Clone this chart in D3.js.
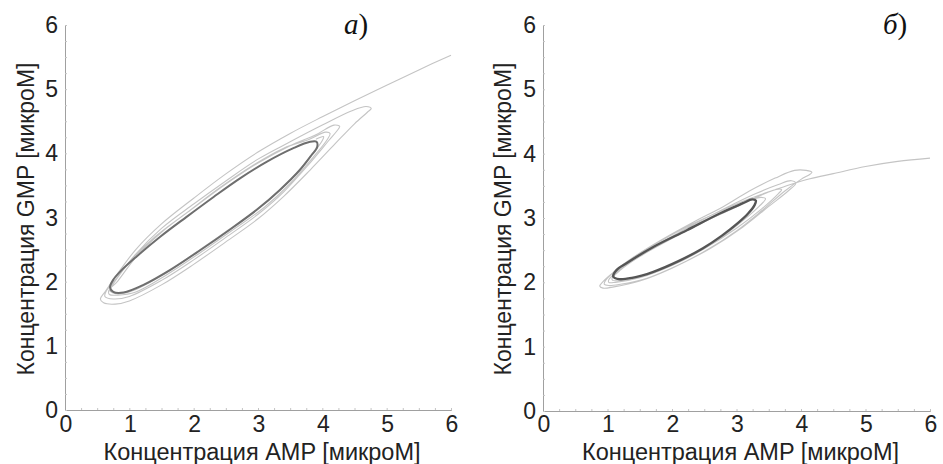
<!DOCTYPE html>
<html>
<head>
<meta charset="utf-8">
<script src="https://cdn.jsdelivr.net/npm/d3@7"></script>
<style>
  body { margin: 0; background: #fff; }
</style>
</head>
<body>
<div id="chart"></div>
<script>
// tick labels and titles
var xTicks = [0, 1, 2, 3, 4, 5, 6];
var yTicks = [0, 1, 2, 3, 4, 5, 6];
var xTitle = "Концентрация AMP [микроМ]";
var yTitle = "Концентрация GMP [микроМ]";
var panelLetters = ["a", "б"];

// panel a: limit cycle (AMP, GMP)
var cycleA = [
  [0.70, 1.91], [0.75, 2.03], [0.88, 2.18], [1.11, 2.39], [1.48, 2.70],
  [1.89, 3.01], [2.31, 3.32], [2.72, 3.61], [3.14, 3.87], [3.55, 4.08],
  [3.81, 4.18], [3.91, 4.18], [3.92, 4.10], [3.83, 3.97], [3.65, 3.74],
  [3.34, 3.43], [2.98, 3.12], [2.56, 2.81], [2.10, 2.49], [1.63, 2.18],
  [1.22, 1.95], [0.91, 1.83], [0.75, 1.84]
];

// panel a: transient trajectory spiralling onto the cycle
var transientA = [
  [6.00, 5.53], [5.50, 5.30], [5.00, 5.06], [4.50, 4.82], [4.00, 4.57],
  [3.50, 4.31], [3.00, 4.02], [2.50, 3.68], [2.00, 3.30], [1.50, 2.90],
  [1.10, 2.50], [0.80, 2.10], [0.62, 1.84], [0.55, 1.73], [0.60, 1.67],
  [0.78, 1.65],
  [1.00, 1.70], [1.50, 1.95], [2.00, 2.27], [2.50, 2.62], [3.00, 2.98],
  [3.40, 3.33], [3.81, 3.74], [4.20, 4.15], [4.50, 4.46], [4.70, 4.64],
  [4.76, 4.70], [4.68, 4.73],
  [4.45, 4.66], [4.00, 4.44], [3.50, 4.18], [3.00, 3.91], [2.50, 3.57],
  [2.00, 3.21], [1.50, 2.83], [1.10, 2.43], [0.80, 2.05], [0.64, 1.85],
  [0.62, 1.77], [0.75, 1.73],
  [1.00, 1.77], [1.50, 2.02], [2.00, 2.34], [2.50, 2.69], [3.00, 3.05],
  [3.40, 3.40], [3.80, 3.84], [4.10, 4.20], [4.25, 4.38], [4.27, 4.42],
  [4.18, 4.44],
  [3.90, 4.29], [3.50, 4.12], [3.00, 3.85], [2.50, 3.52], [2.00, 3.15],
  [1.50, 2.77], [1.10, 2.38], [0.82, 2.01], [0.68, 1.86], [0.69, 1.80],
  [0.82, 1.79],
  [1.10, 1.84], [1.60, 2.12], [2.10, 2.45], [2.60, 2.80], [3.10, 3.16],
  [3.50, 3.53], [3.85, 3.93], [4.08, 4.22], [4.12, 4.31], [4.05, 4.33],
  [3.80, 4.22], [3.40, 4.08], [2.90, 3.80], [2.40, 3.46], [1.90, 3.08],
  [1.40, 2.70], [1.00, 2.30], [0.76, 1.98], [0.69, 1.87], [0.76, 1.82],
  [1.00, 1.84], [1.50, 2.09], [2.00, 2.43], [2.50, 2.78], [3.00, 3.13],
  [3.40, 3.48], [3.80, 3.93], [4.00, 4.20], [4.02, 4.26], [3.90, 4.22]
];

// panel б: limit cycle
var cycleB = [
  [1.09, 2.09], [1.14, 2.19], [1.30, 2.30], [1.71, 2.55], [2.23, 2.81],
  [2.74, 3.07], [3.10, 3.23], [3.24, 3.29], [3.30, 3.27], [3.28, 3.20],
  [3.18, 3.07], [3.02, 2.92], [2.78, 2.73], [2.48, 2.53], [2.10, 2.33],
  [1.70, 2.16], [1.38, 2.07], [1.18, 2.05]
];

// panel б: transient trajectory
var transientB = [
  [6.00, 3.93], [5.50, 3.88], [5.00, 3.80], [4.50, 3.69], [4.14, 3.61],
  [3.90, 3.54], [3.60, 3.44], [3.20, 3.30], [2.80, 3.13], [2.30, 2.90],
  [1.80, 2.63], [1.40, 2.38], [1.10, 2.16], [0.93, 2.01], [0.88, 1.94],
  [0.93, 1.91], [1.10, 1.93],
  [1.50, 2.02], [2.00, 2.22], [2.50, 2.48], [3.00, 2.80], [3.40, 3.12],
  [3.75, 3.42], [4.00, 3.60], [4.14, 3.68], [4.17, 3.71], [4.08, 3.74],
  [3.90, 3.74],
  [3.60, 3.62], [3.20, 3.42], [2.80, 3.18], [2.30, 2.92], [1.80, 2.64],
  [1.40, 2.39], [1.12, 2.18], [0.97, 2.03], [0.95, 1.97], [1.02, 1.95],
  [1.20, 1.97],
  [1.60, 2.06], [2.10, 2.27], [2.60, 2.53], [3.10, 2.86], [3.50, 3.18],
  [3.80, 3.42], [3.92, 3.54], [3.85, 3.58], [3.65, 3.52],
  [3.30, 3.38], [2.80, 3.14], [2.30, 2.88], [1.80, 2.60], [1.40, 2.36],
  [1.15, 2.17], [1.02, 2.04], [1.02, 2.00], [1.12, 2.00],
  [1.50, 2.07], [2.00, 2.26], [2.50, 2.52], [3.00, 2.84], [3.40, 3.15],
  [3.65, 3.38], [3.70, 3.44], [3.60, 3.44], [3.35, 3.34],
  [3.00, 3.17], [2.50, 2.94], [2.00, 2.68], [1.50, 2.40], [1.20, 2.19],
  [1.07, 2.06], [1.08, 2.03], [1.20, 2.03],
  [1.60, 2.12], [2.10, 2.32], [2.60, 2.59], [3.00, 2.88], [3.35, 3.18],
  [3.45, 3.30], [3.38, 3.32], [3.20, 3.27]
];

var width = 943, height = 464;

var svg = d3.select("#chart")
  .append("svg")
  .attr("width", width)
  .attr("height", height)
  .style("font-family", "'Liberation Sans', Arial, sans-serif");

var panels = [
  { left: 65, right: 451, top: 25, bottom: 410, cycle: cycleA, transient: transientA,
    letter: panelLetters[0], letterX: 344, yTitleX: 34, cycleColor: "#6e6e6e", cycleWidth: 2 },
  { left: 543, right: 930, top: 25, bottom: 411, cycle: cycleB, transient: transientB,
    letter: panelLetters[1], letterX: 883, yTitleX: 511, cycleColor: "#555", cycleWidth: 2.4 }
];

panels.forEach(function(p) {
  var x = d3.scaleLinear().domain([0, 6]).range([p.left, p.right]);
  var y = d3.scaleLinear().domain([0, 6]).range([p.bottom, p.top]);
  var g = svg.append("g");

  // minor ticks, pointing inward
  var minor = d3.range(0, 6.001, 0.25);
  g.append("g")
    .attr("transform", "translate(0," + p.bottom + ")")
    .call(d3.axisBottom(x).tickValues(minor).tickSize(-2).tickFormat(""))
    .call(function(a) {
      a.select(".domain").attr("stroke", "#a0a0a0");
      a.selectAll(".tick line").attr("stroke", "#c4c4c4");
    });
  g.append("g")
    .attr("transform", "translate(" + p.left + ",0)")
    .call(d3.axisLeft(y).tickValues(minor).tickSize(-2).tickFormat(""))
    .call(function(a) {
      a.select(".domain").attr("stroke", "#a0a0a0");
      a.selectAll(".tick line").attr("stroke", "#c4c4c4");
    });

  // tick labels
  g.selectAll(".xl")
    .data(xTicks)
    .enter()
    .append("text")
    .attr("x", function(d) { return x(d) + 1; })
    .attr("y", 432)
    .attr("text-anchor", "middle")
    .attr("font-size", "23px")
    .attr("fill", "#222")
    .text(function(d) { return d; });

  g.selectAll(".yl")
    .data(yTicks)
    .enter()
    .append("text")
    .attr("x", p.left - 7)
    .attr("y", function(d) { return y(d) + 8; })
    .attr("text-anchor", "end")
    .attr("font-size", "23px")
    .attr("fill", "#222")
    .text(function(d) { return d; });

  // axis titles
  g.append("text")
    .attr("x", (p.left + p.right) / 2 + 4)
    .attr("y", 460)
    .attr("text-anchor", "middle")
    .attr("font-size", "23.5px")
    .attr("fill", "#222")
    .text(xTitle);

  g.append("text")
    .attr("transform", "translate(" + p.yTitleX + "," + 219 + ") rotate(-90)")
    .attr("text-anchor", "middle")
    .attr("font-size", "23px")
    .attr("fill", "#222")
    .text(yTitle);

  // panel letter
  var lt = g.append("text")
    .attr("x", p.letterX)
    .attr("y", 34)
    .attr("font-family", "'Liberation Serif', 'Times New Roman', serif")
    .attr("font-size", "29px")
    .attr("fill", "#111");
  lt.append("tspan").attr("font-style", "italic").text(p.letter);
  lt.append("tspan").text(")");

  // trajectories
  var line = d3.line()
    .x(function(d) { return x(d[0]); })
    .y(function(d) { return y(d[1]); })
    .curve(d3.curveCatmullRom.alpha(0.5));

  g.append("path")
    .datum(p.transient)
    .attr("d", line)
    .attr("fill", "none")
    .attr("stroke", "#c4c4c4")
    .attr("stroke-width", 1.1);

  var closed = d3.line()
    .x(function(d) { return x(d[0]); })
    .y(function(d) { return y(d[1]); })
    .curve(d3.curveCatmullRomClosed.alpha(0.5));

  g.append("path")
    .datum(p.cycle)
    .attr("d", closed)
    .attr("fill", "none")
    .attr("stroke", p.cycleColor)
    .attr("stroke-width", p.cycleWidth);
});
</script>
</body>
</html>
